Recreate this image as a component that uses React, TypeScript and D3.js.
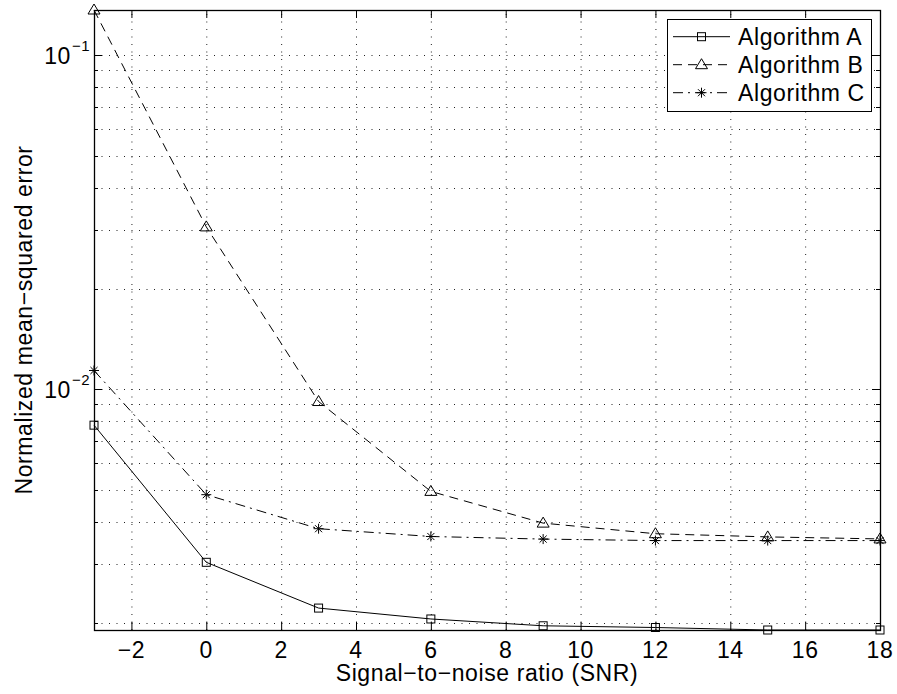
import React from "react";
import * as d3 from "d3";

const snr = [-3, 0, 3, 6, 9, 12, 15, 18];
const algA = [0.0078, 0.00303, 0.00221, 0.00205, 0.001956, 0.001933, 0.0019, 0.0019];
const algB = [0.1365, 0.0306, 0.00918, 0.00494, 0.00397, 0.00369, 0.00361, 0.00356];
const algC = [0.01137, 0.00483, 0.00382, 0.00362, 0.003556, 0.00352, 0.00352, 0.00352];
const seriesNames = ["Algorithm A", "Algorithm B", "Algorithm C"];
const xTicks = [-2, 0, 2, 4, 6, 8, 10, 12, 14, 16, 18];
const yMajor = [0.01, 0.1];
const yMajorExp = ["−2", "−1"];
const xLabel = "Signal−to−noise ratio (SNR)";
const yLabel = "Normalized mean−squared error";

const W = 897, H = 694;
const L = 94, R = 880, T = 10, B = 630;
const FONT = "'Liberation Sans', Arial, Helvetica, sans-serif";

function Marker({ type, x, y }: { type: string; x: number; y: number }) {
  if (type === "square") {
    return <rect x={x - 4} y={y - 4} width={8} height={8} fill="none" stroke="#000" strokeWidth={1} />;
  }
  if (type === "triangle") {
    const p = `${x},${y - 6} ${x + 6},${y + 4} ${x - 6},${y + 4}`;
    return <polygon points={p} fill="none" stroke="#000" strokeWidth={1} />;
  }
  const r = 5;
  const d = r * 0.707;
  return (
    <g stroke="#000" strokeWidth={1}>
      <line x1={x - r} y1={y} x2={x + r} y2={y} />
      <line x1={x} y1={y - r} x2={x} y2={y + r} />
      <line x1={x - d} y1={y - d} x2={x + d} y2={y + d} />
      <line x1={x - d} y1={y + d} x2={x + d} y2={y - d} />
    </g>
  );
}

export default function App() {
  const all = [...algA, ...algB, ...algC];
  const ext = d3.extent(all) as [number, number];
  const x = d3.scaleLinear().domain([-3, 18]).range([L, R]);
  const y = d3.scaleLog().domain(ext).range([B, T]);

  const minorY: number[] = [];
  for (let e = -3; e <= -1; e++) {
    for (let m = 1; m <= 9; m++) {
      const v = m * Math.pow(10, e);
      if (v >= ext[0] && v <= ext[1]) minorY.push(v);
    }
  }

  const line = d3
    .line<number>()
    .x((_, i) => x(snr[i]))
    .y((d) => y(d));

  const series = [
    { data: algA, dash: "none", marker: "square" },
    { data: algB, dash: "9 6", marker: "triangle" },
    { data: algC, dash: "10 5 2 5", marker: "star" },
  ];

  const textStyle = { fontFamily: FONT, fontSize: 23, letterSpacing: "0.6px" } as React.CSSProperties;

  return (
    <svg width={W} height={H} style={{ position: "absolute", left: 0, top: 0, background: "#fff" }}>
      <rect x={0} y={0} width={W} height={H} fill="#fff" />
      {/* grid */}
      <g stroke="#222" strokeWidth={1} strokeDasharray="1 6.5">
        {xTicks.map((t) => (
          <line key={"gx" + t} x1={x(t) + 0.5} x2={x(t) + 0.5} y1={B} y2={T} />
        ))}
        {minorY.map((v) => (
          <line key={"gy" + v} x1={L} x2={R} y1={Math.round(y(v)) + 0.5} y2={Math.round(y(v)) + 0.5} />
        ))}
      </g>
      {/* ticks */}
      <g stroke="#000" strokeWidth={1}>
        {xTicks.map((t) => (
          <g key={"tx" + t}>
            <line x1={x(t) + 0.5} x2={x(t) + 0.5} y1={B} y2={B - 8} />
            <line x1={x(t) + 0.5} x2={x(t) + 0.5} y1={T} y2={T + 8} />
          </g>
        ))}
        {minorY.map((v) => {
          const len = yMajor.includes(v) ? 8 : 4;
          const yy = Math.round(y(v)) + 0.5;
          return (
            <g key={"ty" + v}>
              <line x1={L} x2={L + len} y1={yy} y2={yy} />
              <line x1={R} x2={R - len} y1={yy} y2={yy} />
            </g>
          );
        })}
      </g>
      {/* axes box */}
      <rect x={L + 0.5} y={T + 0.5} width={R - L} height={B - T} fill="none" stroke="#000" strokeWidth={1.3} />
      {/* series */}
      {series.map((s, si) => (
        <g key={"s" + si}>
          <path d={line(s.data) || ""} fill="none" stroke="#000" strokeWidth={1} strokeDasharray={s.dash} />
          {s.data.map((v, i) => (
            <Marker key={i} type={s.marker} x={x(snr[i])} y={y(v)} />
          ))}
        </g>
      ))}
      {/* x tick labels */}
      {xTicks.map((t) => (
        <text key={"lx" + t} x={x(t)} y={658} textAnchor="middle" style={textStyle}>
          {t < 0 ? "−" + Math.abs(t) : String(t)}
        </text>
      ))}
      {/* y tick labels */}
      {yMajor.map((v, i) => (
        <g key={"ly" + v}>
          <text x={71} y={y(v) + 8.5} textAnchor="end" style={textStyle}>10</text>
          <text x={72} y={y(v) - 4} style={{ ...textStyle, fontSize: 15, letterSpacing: "0.4px" }}>
            {yMajorExp[i]}
          </text>
        </g>
      ))}
      {/* axis labels */}
      <text x={487} y={681} textAnchor="middle" style={textStyle}>{xLabel}</text>
      <text transform={`translate(32,${(T + B) / 2}) rotate(-90)`} textAnchor="middle" style={textStyle}>
        {yLabel}
      </text>
      {/* legend */}
      <g>
        <rect x={667.5} y={19.5} width={204} height={92} fill="#fff" stroke="#000" strokeWidth={1} />
        {series.map((s, i) => {
          const ry = 36.7 + i * 28;
          return (
            <g key={"lg" + i}>
              <line x1={673} x2={730} y1={ry} y2={ry} stroke="#000" strokeWidth={1} strokeDasharray={s.dash} />
              <Marker type={s.marker} x={701.5} y={ry} />
              <text x={738} y={ry + 8} style={textStyle}>{seriesNames[i]}</text>
            </g>
          );
        })}
      </g>
    </svg>
  );
}
